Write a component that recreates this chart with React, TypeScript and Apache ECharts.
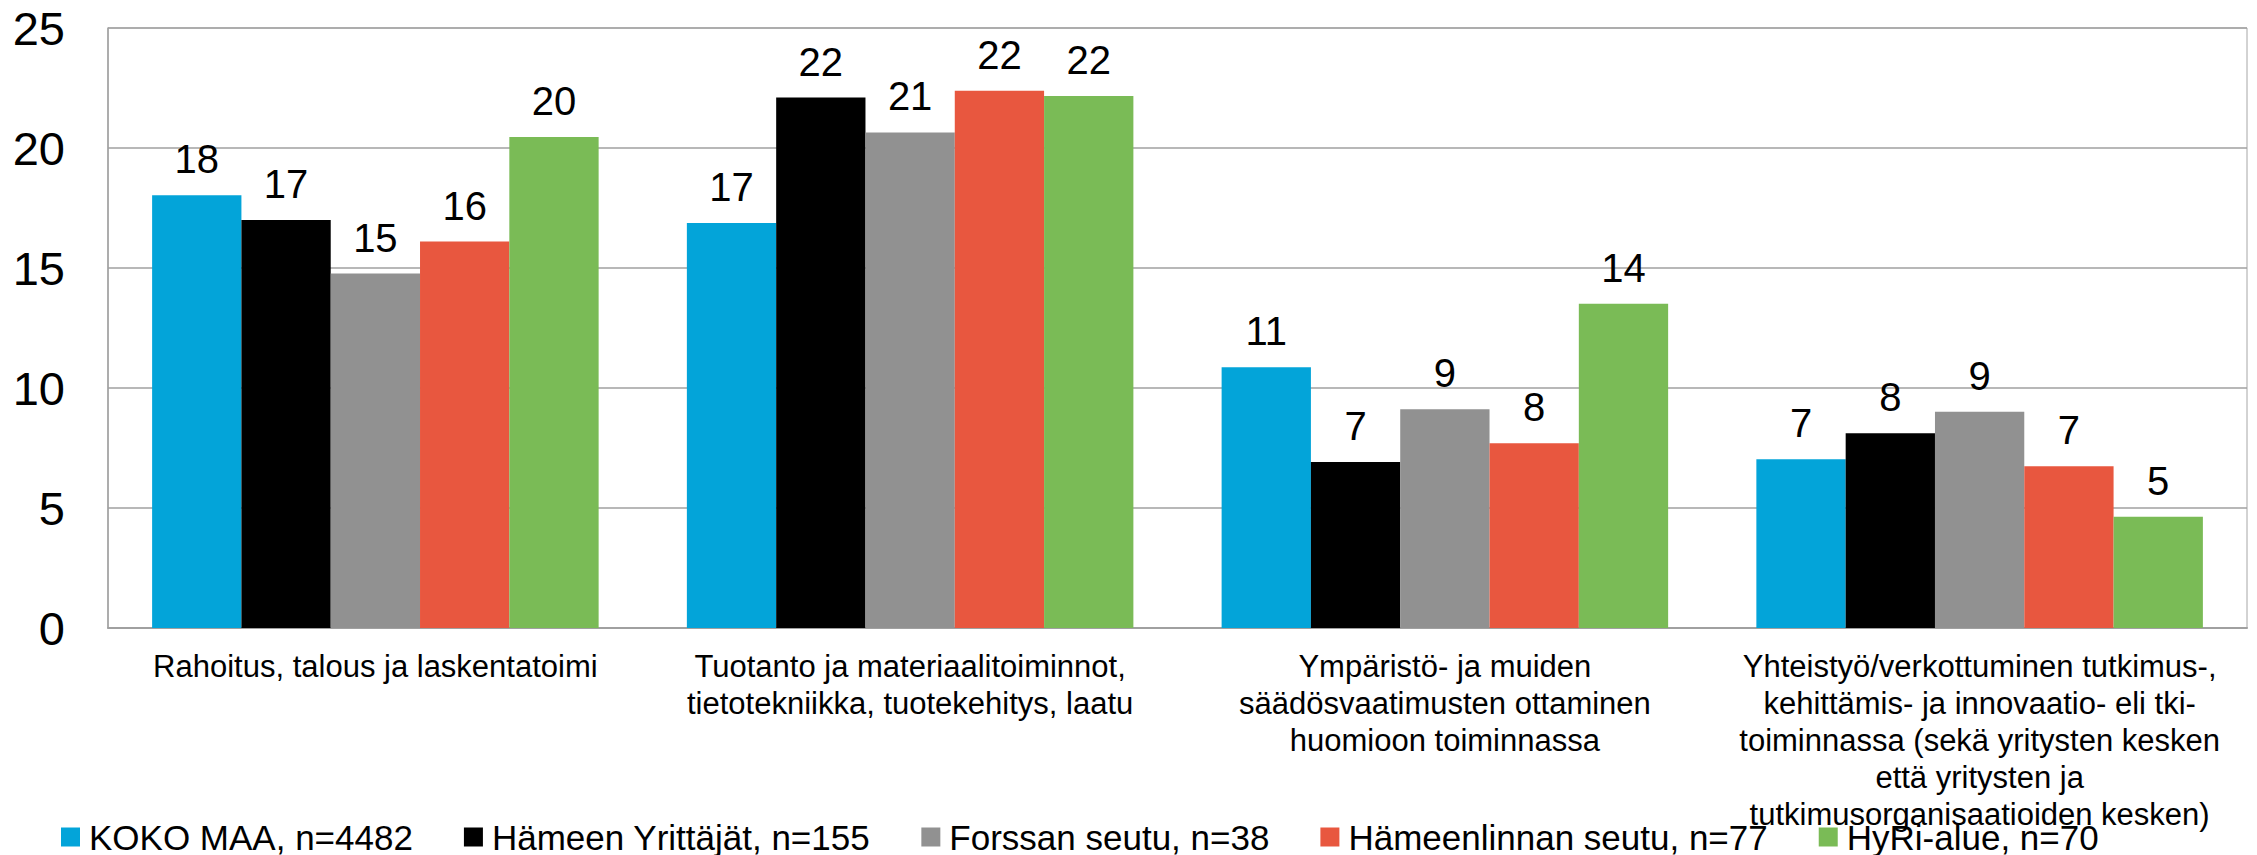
import React, { useEffect, useRef } from "react";
import * as echarts from "echarts";

const categories = [
  "Rahoitus, talous ja laskentatoimi",
  "Tuotanto ja materiaalitoiminnot,\ntietotekniikka, tuotekehitys, laatu",
  "Ympäristö- ja muiden\nsäädösvaatimusten ottaminen\nhuomioon toiminnassa",
  "Yhteistyö/verkottuminen tutkimus-,\nkehittämis- ja innovaatio- eli tki-\ntoiminnassa (sekä yritysten kesken\nettä yritysten ja\ntutkimusorganisaatioiden kesken)",
];

const seriesNames = [
  "KOKO MAA, n=4482",
  "Hämeen Yrittäjät, n=155",
  "Forssan seutu, n=38",
  "Hämeenlinnan seutu, n=77",
  "HyRi-alue, n=70",
];

const kokoMaa = [18.03, 16.87, 10.86, 7.03];
const hameenYrittajat = [17.0, 22.1, 6.92, 8.11];
const forssanSeutu = [14.77, 20.65, 9.11, 9.01];
const hameenlinnanSeutu = [16.1, 22.39, 7.7, 6.74];
const hyriAlue = [20.46, 22.17, 13.51, 4.64];

const seriesValues = [kokoMaa, hameenYrittajat, forssanSeutu, hameenlinnanSeutu, hyriAlue];
const colors = ["#03A4D9", "#000000", "#919191", "#E8573F", "#7ABB56"];

const yTicks = [0, 5, 10, 15, 20, 25];

const FONT = "'Liberation Sans', Arial, sans-serif";

export default function App() {
  const ref = useRef<HTMLDivElement>(null);

  useEffect(() => {
    if (!ref.current) return;
    const chart = echarts.init(ref.current, null, { renderer: "svg" });
    chart.setOption({
      animation: false,
      backgroundColor: "#ffffff",
      textStyle: { fontFamily: FONT },
      grid: {
        left: 108,
        right: 10,
        top: 28,
        bottom: 227,
        show: true,
        borderColor: "#a6a6a6",
        borderWidth: 1,
        containLabel: false,
      },
      legend: {
        left: 56,
        top: 814,
        itemWidth: 19,
        itemHeight: 19,
        itemGap: 51,
        icon: "rect",
        data: seriesNames,
        textStyle: {
          fontFamily: FONT,
          fontSize: 35,
          lineHeight: 36,
          color: "#000",
          padding: [0, 0, 0, 4],
        },
      },
      xAxis: {
        type: "category",
        data: categories,
        axisLine: { show: true, lineStyle: { color: "#a0a0a0", width: 2 } },
        axisTick: { show: false },
        axisLabel: {
          interval: 0,
          margin: 20,
          fontFamily: FONT,
          fontSize: 31,
          lineHeight: 37,
          color: "#000",
          align: "center",
        },
      },
      yAxis: {
        type: "value",
        min: yTicks[0],
        max: yTicks[yTicks.length - 1],
        interval: 5,
        axisLine: { show: true, lineStyle: { color: "#a0a0a0", width: 1.5 } },
        axisTick: { show: false },
        splitLine: { show: true, lineStyle: { color: "#a0a0a0", width: 1.5 } },
        axisLabel: {
          margin: 43,
          fontFamily: FONT,
          fontSize: 47,
          color: "#000",
        },
      },
      series: seriesNames.map((name, i) => ({
        name,
        type: "bar",
        data: seriesValues[i],
        barGap: "0%",
        barCategoryGap: "16.5%",
        itemStyle: { color: colors[i] },
        label: {
          show: true,
          position: "top",
          distance: 16,
          fontFamily: FONT,
          fontSize: 40,
          lineHeight: 40,
          color: "#000",
          formatter: (p: any) => String(Math.round(p.value)),
        },
      })),
    });
    return () => chart.dispose();
  }, []);

  return <div ref={ref} style={{ width: 2257, height: 855, position: "absolute", left: 0, top: 0 }} />;
}
